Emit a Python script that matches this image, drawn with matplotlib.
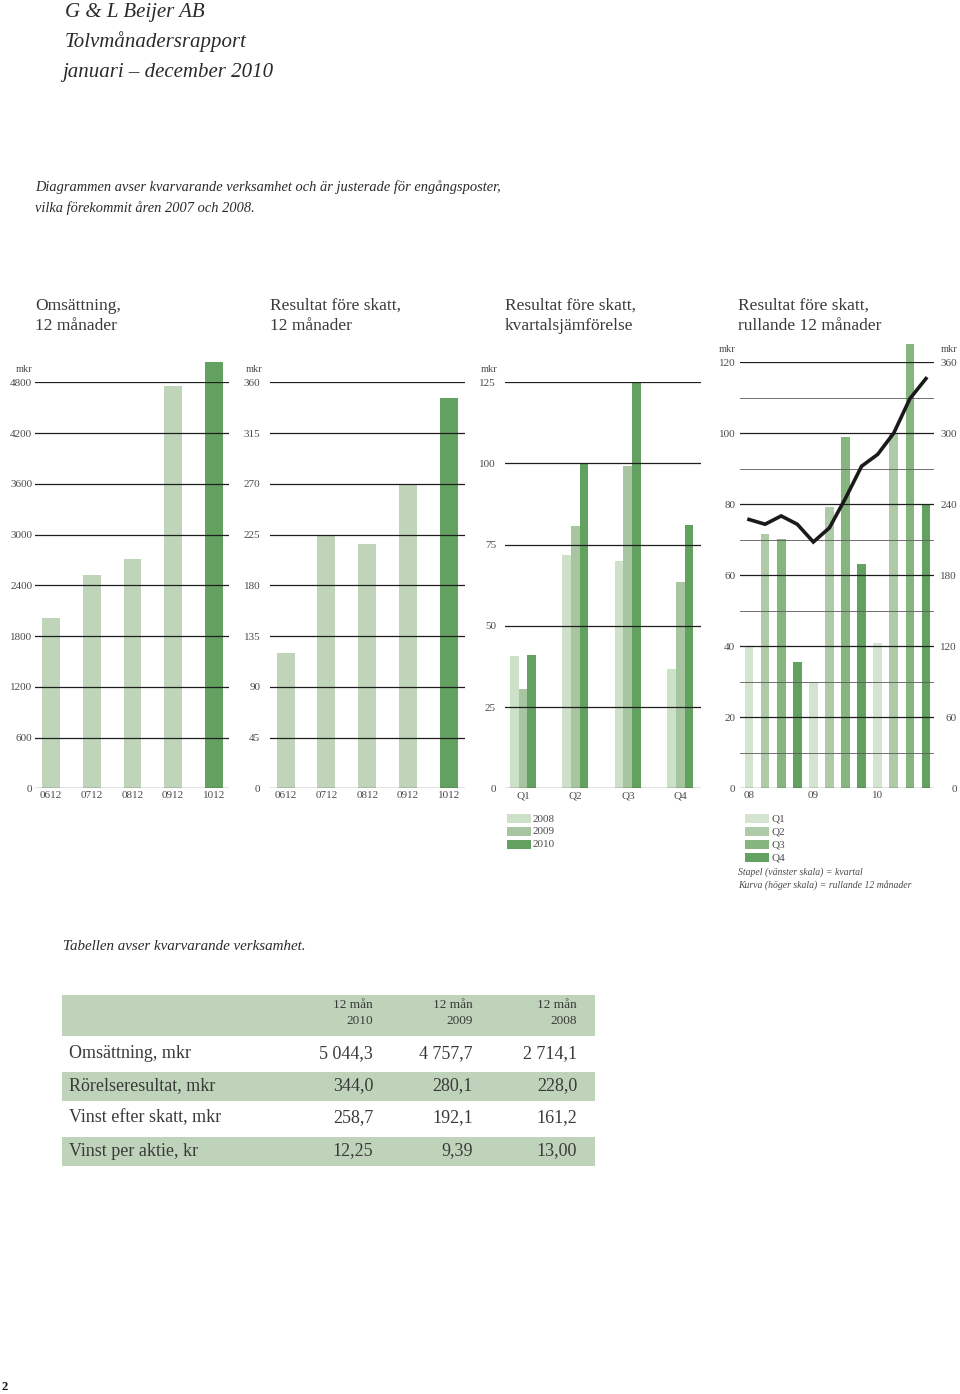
import numpy as np
import matplotlib.pyplot as plt
from matplotlib.patches import Rectangle

plt.rcParams['font.family'] = ['Liberation Serif', 'DejaVu Serif']

W, H = 960, 1394

# chart 1 and 2: yearly values
years = ['0612', '0712', '0812', '0912', '1012']
sales = [2015, 2525, 2714, 4758, 5044]
profit = [120, 225, 217, 270, 346]

# chart 3: quarterly comparison
quarters = ['Q1', 'Q2', 'Q3', 'Q4']
q2008 = [40.7, 71.8, 69.9, 36.6]
q2009 = [30.7, 80.8, 99.2, 63.5]
q2010 = [40.9, 100.1, 125.0, 81.0]

# chart 4: quarters 2008-2010 and rolling 12 months
quarter_bars = [40.0, 71.6, 70.2, 35.6, 29.8, 79.1, 99.0, 63.0, 40.8, 99.9, 125.2, 80.0]
rolling12 = [227, 223, 230, 223, 208, 220, 245, 272, 282, 300, 329, 346]
year_ticks = ['08', '09', '10']

# table
col_heads = ['12 mån\n2010', '12 mån\n2009', '12 mån\n2008']
row_names = ['Omsättning, mkr', 'Rörelseresultat, mkr', 'Vinst efter skatt, mkr', 'Vinst per aktie, kr']
val_2010 = ['5 044,3', '344,0', '258,7', '12,25']
val_2009 = ['4 757,7', '280,1', '192,1', '9,39']
val_2008 = ['2 714,1', '228,0', '161,2', '13,00']

light = '#bfd4b9'
dark = '#63a160'
c08, c09, c10 = '#cde0c8', '#a7c5a0', '#63a160'
qcols = ['#d5e4d1', '#aecaa7', '#87b580', '#63a160']
band = '#bed3b9'
txt = '#3a3a3a'
tick_c = '#4a4a4a'

fig = plt.figure(figsize=(W / 100, H / 100), dpi=100)


def fx(x):
    return x / W


def fy(y):
    return 1 - y / H


def add_axes(x0, x1, ytop, ybot):
    return fig.add_axes([fx(x0), fy(ybot), (x1 - x0) / W, (ybot - ytop) / H])


def style(ax, yticks, pad):
    for s in ax.spines.values():
        s.set_visible(False)
    ax.set_yticks(yticks)
    ax.tick_params(axis='both', which='both', length=0, labelsize=8, labelcolor=tick_c)
    ax.tick_params(axis='y', pad=pad)
    ax.tick_params(axis='x', pad=2)
    ax.grid(axis='y', color='#1e1e1e', lw=0.9)
    ax.set_axisbelow(False)


# header
fig.text(fx(65), fy(12), 'G & L Beijer AB', style='italic', fontsize=15, color='#2a2a2a', va='center')
fig.text(fx(65), fy(42), 'Tolvmånadersrapport', style='italic', fontsize=15, color='#2a2a2a', va='center')
fig.text(fx(62), fy(72), 'januari – december 2010', style='italic', fontsize=15, color='#2a2a2a', va='center')
fig.text(fx(35), fy(187), 'Diagrammen avser kvarvarande verksamhet och är justerade för engångsposter,',
         style='italic', fontsize=10.4, color='#2a2a2a', va='center')
fig.text(fx(35), fy(208), 'vilka förekommit åren 2007 och 2008.',
         style='italic', fontsize=10.4, color='#2a2a2a', va='center')

# chart titles
titles = ['Omsättning,\n12 månader', 'Resultat före skatt,\n12 månader',
          'Resultat före skatt,\nkvartalsjämförelse', 'Resultat före skatt,\nrullande 12 månader']
for tx, t in zip([35, 270, 505, 738], titles):
    fig.text(fx(tx), fy(298), t, fontsize=12.5, color=txt, va='top', linespacing=1.35)

y0 = 788.3

# chart 1
ax1 = add_axes(35, 229, 382.3, y0)
x = np.arange(len(years))
ax1.bar(x, sales, 0.435, color=[light] * 4 + [dark], clip_on=False)
ax1.set_xlim(-0.39, 4.37)
ax1.set_ylim(0, 4800)
style(ax1, np.arange(0, 4801, 600), 2)
ax1.set_xticks(x, years)
fig.text(fx(32), fy(369), 'mkr', fontsize=7.5, color=tick_c, ha='right', va='center')

# chart 2
ax2 = add_axes(270, 465, 382.3, y0)
ax2.bar(x, profit, 0.44, color=[light] * 4 + [dark], clip_on=False)
ax2.set_xlim(-0.385, 4.40)
ax2.set_ylim(0, 360)
style(ax2, np.arange(0, 361, 45), 7)
ax2.set_xticks(x, years)
fig.text(fx(262), fy(369), 'mkr', fontsize=7.5, color=tick_c, ha='right', va='center')

# chart 3
ax3 = add_axes(505, 700.7, 382.3, y0)
xq = np.arange(len(quarters))
w = 0.166
ax3.bar(xq - w, q2008, w, color=c08, clip_on=False)
ax3.bar(xq, q2009, w, color=c09, clip_on=False)
ax3.bar(xq + w, q2010, w, color=c10, clip_on=False)
ax3.set_xlim(-0.344, 3.39)
ax3.set_ylim(0, 125)
style(ax3, np.arange(0, 126, 25), 6.5)
ax3.set_xticks(xq, quarters)
fig.text(fx(497), fy(369), 'mkr', fontsize=7.5, color=tick_c, ha='right', va='center')

# chart 4
ax4 = add_axes(740, 934, 362, y0)
xb = np.arange(len(quarter_bars))
ax4.bar(xb, quarter_bars, 0.54, color=[qcols[i % 4] for i in xb], clip_on=False)
ax4.set_xlim(-0.56, 11.5)
ax4.set_ylim(0, 120)
style(ax4, np.arange(0, 121, 20), 3.5)
ax4.set_yticks(np.arange(10, 120, 20), minor=True)
ax4.grid(axis='y', which='minor', color='#5a5a5a', lw=0.6)
ax4.set_xticks(xb[::4], year_ticks)
ax4r = ax4.twinx()
ax4r.plot(xb, rolling12, color='#1a1a1a', lw=2.6, solid_joinstyle='miter')
ax4r.set_ylim(0, 360)
for s in ax4r.spines.values():
    s.set_visible(False)
ax4r.set_yticks(np.arange(0, 361, 60))
ax4r.tick_params(axis='y', length=0, labelsize=8, labelcolor=tick_c, pad=16.6)
for lbl in ax4r.get_yticklabels():
    lbl.set_horizontalalignment('right')
fig.text(fx(735), fy(349), 'mkr', fontsize=7.5, color=tick_c, ha='right', va='center')
fig.text(fx(957), fy(349), 'mkr', fontsize=7.5, color=tick_c, ha='right', va='center')


# legends
def swatch(xl, yc, color):
    fig.add_artist(Rectangle((fx(xl), fy(yc + 4.5)), 24 / W, 9 / H, transform=fig.transFigure,
                             color=color, lw=0))


for i, (lab, c) in enumerate(zip(['2008', '2009', '2010'], [c08, c09, c10])):
    yc = 819 + 12.7 * i
    swatch(507, yc, c)
    fig.text(fx(533), fy(yc), lab, fontsize=8, color=tick_c, va='center')

for i, (lab, c) in enumerate(zip(quarters, qcols)):
    yc = 819 + 12.9 * i
    swatch(745, yc, c)
    fig.text(fx(771), fy(yc), lab, fontsize=8, color=tick_c, va='center')
fig.text(fx(738), fy(872), 'Stapel (vänster skala) = kvartal', style='italic', fontsize=7,
         color=tick_c, va='center')
fig.text(fx(738), fy(885), 'Kurva (höger skala) = rullande 12 månader', style='italic', fontsize=7,
         color=tick_c, va='center')

# table
fig.text(fx(63), fy(947), 'Tabellen avser kvarvarande verksamhet.', style='italic', fontsize=10.8,
         color='#2a2a2a', va='center')
fig.add_artist(Rectangle((fx(62), fy(1036)), 533 / W, 41 / H, transform=fig.transFigure, color=band, lw=0))
col_x = [373, 473, 577]
for cx, head in zip(col_x, col_heads):
    fig.text(fx(cx), fy(1013), head, fontsize=9.5, color=txt, ha='right', va='center', linespacing=1.35)
row_y = [1054, 1086, 1118, 1151]
for i, yc in enumerate(row_y):
    if i % 2 == 1:
        fig.add_artist(Rectangle((fx(62), fy(yc + 14.5)), 533 / W, 29 / H, transform=fig.transFigure,
                                 color=band, lw=0))
    fig.text(fx(69), fy(yc), row_names[i], fontsize=13, color=txt, va='center')
    for cx, vals in zip(col_x, [val_2010, val_2009, val_2008]):
        fig.text(fx(cx), fy(yc), vals[i], fontsize=13, color=txt, ha='right', va='center')

fig.text(fx(1), fy(1387), '2', fontsize=9, fontweight='bold', color='#111', va='center')

fig.savefig('out.png', dpi=100)
